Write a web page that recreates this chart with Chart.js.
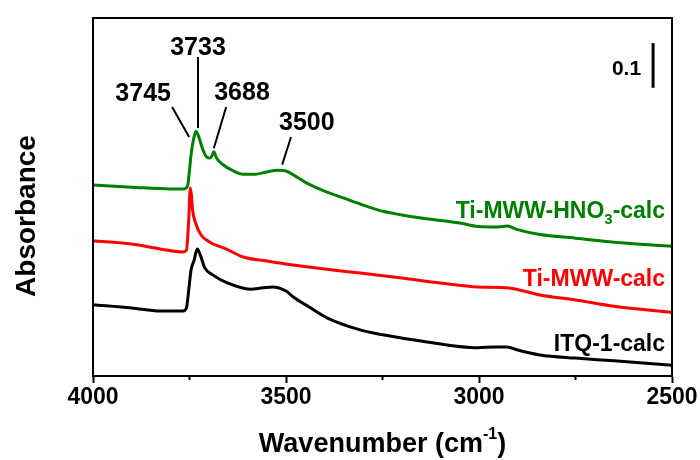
<!DOCTYPE html>
<html>
<head>
<meta charset="utf-8">
<script src="https://cdn.jsdelivr.net/npm/chart.js@4/dist/chart.umd.min.js"></script>
<style>
  body { margin: 0; background: #fff; }
  #wrap { width: 700px; height: 460px; }
</style>
</head>
<body>
<div id="wrap"><canvas id="ir" width="700" height="460"></canvas></div>
<script>
// --- data (wavenumber in cm-1, absorbance offset) ---
const hno3Wn  = [4000, 3900, 3800, 3765, 3755, 3750, 3746, 3740, 3733, 3725, 3715, 3705, 3697, 3692, 3687, 3680, 3663, 3640, 3611, 3580, 3550, 3521, 3500, 3480, 3446, 3400, 3352, 3300, 3249, 3200, 3150, 3050, 3003, 2950, 2927, 2900, 2842, 2750, 2650, 2500];
const hno3Abs = [0.427, 0.422, 0.418, 0.418, 0.425, 0.460, 0.494, 0.527, 0.547, 0.532, 0.505, 0.489, 0.487, 0.492, 0.501, 0.487, 0.472, 0.460, 0.451, 0.451, 0.456, 0.460, 0.458, 0.449, 0.431, 0.413, 0.398, 0.382, 0.368, 0.360, 0.353, 0.342, 0.334, 0.333, 0.335, 0.327, 0.316, 0.308, 0.299, 0.290];

const mwwWn  = [4000, 3900, 3826, 3767, 3758, 3752, 3748, 3745, 3742, 3735, 3720, 3697, 3650, 3611, 3550, 3482, 3400, 3308, 3200, 3100, 3003, 2927, 2842, 2750, 2650, 2500];
const mwwAbs = [0.302, 0.295, 0.284, 0.277, 0.281, 0.349, 0.420, 0.404, 0.371, 0.344, 0.315, 0.299, 0.282, 0.266, 0.257, 0.248, 0.239, 0.230, 0.219, 0.208, 0.199, 0.197, 0.181, 0.170, 0.156, 0.142];

const itqWn  = [4000, 3900, 3826, 3767, 3758, 3752, 3746, 3738, 3730, 3722, 3710, 3690, 3652, 3593, 3560, 3535, 3500, 3482, 3440, 3394, 3308, 3249, 3150, 3003, 2960, 2927, 2900, 2842, 2750, 2650, 2500];
const itqAbs = [0.159, 0.152, 0.145, 0.145, 0.152, 0.192, 0.237, 0.259, 0.284, 0.270, 0.241, 0.226, 0.208, 0.194, 0.197, 0.199, 0.190, 0.177, 0.154, 0.130, 0.103, 0.092, 0.078, 0.063, 0.065, 0.065, 0.058, 0.047, 0.040, 0.034, 0.024];

const xTicks = [4000, 3500, 3000, 2500];
const minorTicks = [3750, 3250, 2750];
const peakNames = ['3745', '3733', '3688', '3500'];

// label / leader placement in data units (wavenumber, absorbance)
const peakText  = [[3870, 0.630], [3728, 0.733], [3614, 0.632], [3446, 0.565]];
const peakLine  = [[3795, 0.601, 3751, 0.534], [3728, 0.713, 3728, 0.554], [3655, 0.601, 3687, 0.509], [3487, 0.534, 3510, 0.472]];

const FONT = "'Liberation Sans', Arial, sans-serif";

function pts(xs, ys) {
    return xs.map((x, i) => ({ x: x, y: ys[i] }));
}

// --- annotation + frame drawing ---
const decor = {
    id: 'decor',
    afterDraw(chart) {
        const c = chart.ctx;
        const a = chart.chartArea;
        const sx = chart.scales.x, sy = chart.scales.y;
        c.save();

        // frame
        c.strokeStyle = '#000';
        c.lineWidth = 2;
        c.strokeRect(a.left, a.top, a.right - a.left, a.bottom - a.top);

        // minor ticks
        minorTicks.forEach(v => {
            const px = sx.getPixelForValue(v);
            c.beginPath();
            c.moveTo(px, a.bottom);
            c.lineTo(px, a.bottom + 4);
            c.stroke();
        });

        // peak labels
        c.fillStyle = '#000';
        c.font = 'bold 25px ' + FONT;
        c.textAlign = 'center';
        c.textBaseline = 'middle';
        c.lineWidth = 2;
        peakNames.forEach((name, i) => {
            const l = peakLine[i];
            c.beginPath();
            c.moveTo(sx.getPixelForValue(l[0]), sy.getPixelForValue(l[1]));
            c.lineTo(sx.getPixelForValue(l[2]), sy.getPixelForValue(l[3]));
            c.stroke();
            c.fillText(name, sx.getPixelForValue(peakText[i][0]), sy.getPixelForValue(peakText[i][1]));
        });

        // 0.1 scale bar
        const barX = sx.getPixelForValue(2549);
        c.lineWidth = 3;
        c.beginPath();
        c.moveTo(barX, sy.getPixelForValue(0.744));
        c.lineTo(barX, sy.getPixelForValue(0.644));
        c.stroke();
        c.font = 'bold 21px ' + FONT;
        c.textAlign = 'right';
        c.fillText('0.1', sx.getPixelForValue(2580), sy.getPixelForValue(0.686));

        // series names
        const rx = sx.getPixelForValue(2518);
        c.font = 'bold 23px ' + FONT;
        c.textAlign = 'right';
        c.textBaseline = 'alphabetic';
        c.fillStyle = '#ff0000';
        c.fillText('Ti-MWW-calc', rx, sy.getPixelForValue(0.219) + 8);
        c.fillStyle = '#000';
        c.fillText('ITQ-1-calc', rx, sy.getPixelForValue(0.074) + 8);

        // Ti-MWW-HNO3-calc with subscript
        c.fillStyle = '#008000';
        const gy = sy.getPixelForValue(0.371) + 8;
        const tail = '-calc', head = 'Ti-MWW-HNO';
        const wTail = c.measureText(tail).width;
        c.font = 'bold 15px ' + FONT;
        const wSub = c.measureText('3').width;
        c.fillText('3', rx - wTail, gy + 6);
        c.font = 'bold 23px ' + FONT;
        c.fillText(tail, rx, gy);
        c.fillText(head, rx - wTail - wSub, gy);

        // axis titles
        c.fillStyle = '#000';
        c.textAlign = 'left';
        const t1 = 'Wavenumber (cm';
        c.font = 'bold 27px ' + FONT;
        const w1 = c.measureText(t1).width;
        c.font = 'bold 16px ' + FONT;
        const w2 = c.measureText('-1').width;
        c.font = 'bold 27px ' + FONT;
        const w3 = c.measureText(')').width;
        const tx = (a.left + a.right) / 2 - (w1 + w2 + w3) / 2;
        c.fillText(t1, tx, 452);
        c.font = 'bold 16px ' + FONT;
        c.fillText('-1', tx + w1, 439);
        c.font = 'bold 27px ' + FONT;
        c.fillText(')', tx + w1 + w2, 452);

        c.translate(35, 216);
        c.rotate(-Math.PI / 2);
        c.textAlign = 'center';
        c.font = 'bold 28px ' + FONT;
        c.fillText('Absorbance', 0, 0);

        c.restore();
    }
};

new Chart(document.getElementById('ir'), {
    type: 'line',
    data: {
        datasets: [
            { label: 'Ti-MWW-HNO3-calc', data: pts(hno3Wn, hno3Abs), borderColor: '#008000' },
            { label: 'Ti-MWW-calc', data: pts(mwwWn, mwwAbs), borderColor: '#ff0000' },
            { label: 'ITQ-1-calc', data: pts(itqWn, itqAbs), borderColor: '#000000' }
        ]
    },
    options: {
        responsive: false,
        animation: false,
        layout: { padding: { top: 18, right: 28, left: 0, bottom: 0 } },
        elements: {
            point: { radius: 0 },
            line: { borderWidth: 3, cubicInterpolationMode: 'monotone', fill: false }
        },
        plugins: { legend: { display: false }, tooltip: { enabled: false } },
        scales: {
            x: {
                type: 'linear',
                reverse: true,
                min: 2500,
                max: 4000,
                afterBuildTicks: s => { s.ticks = xTicks.map(v => ({ value: v })); },
                ticks: {
                    color: '#000',
                    font: { family: FONT, size: 23, weight: 'bold' },
                    padding: 1,
                    maxRotation: 0,
                    autoSkip: false,
                    callback: v => String(v)
                },
                grid: { display: true, drawOnChartArea: false, tickLength: 7, tickWidth: 2, tickColor: '#000' },
                border: { display: true, color: '#000', width: 2 },
                afterFit: s => { s.height = 84; }
            },
            y: {
                min: 0,
                max: 0.8,
                ticks: { display: false },
                grid: { display: false },
                border: { display: true, color: '#000', width: 2 },
                afterFit: s => { s.width = 93; }
            }
        }
    },
    plugins: [decor]
});
</script>
</body>
</html>
